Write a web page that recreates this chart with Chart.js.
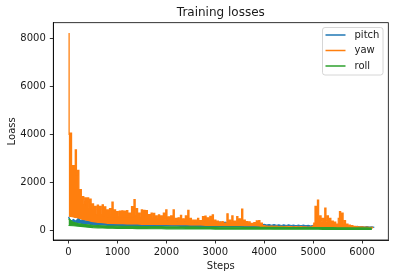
<!DOCTYPE html>
<html>
<head>
<meta charset="utf-8">
<script src="https://cdn.jsdelivr.net/npm/chart.js@4.4.0/dist/chart.umd.min.js"></script>
<style>
    html, body { margin: 0; padding: 0; background: #fff; }
    #wrap { width: 395px; height: 278px; }
</style>
</head>
<body>
<div id="wrap"><canvas id="lossChart" width="395" height="278"></canvas></div>
<script>
// Training losses - pitch / yaw / roll

// sample spacing (steps); each "peak" is read at step i*SAMPLE, each "body" value half a sample later
const SAMPLE = 50;
const SAMPLE_COARSE = 100;

const xTicks = [0, 1000, 2000, 3000, 4000, 5000, 6000];
const yTicks = [0, 2000, 4000, 6000, 8000];

// yaw: spikes on top of the noisy band (every 50 steps)
const yawPeak = [
    8200, 4050, 2700, 3350, 2500, 1700, 1400, 1350, 1350, 1300,
    1100, 1000, 1050, 1000, 1060, 980, 850, 900, 1180, 850,
    780, 800, 810, 800, 820, 720, 990, 1280, 900, 720,
    850, 830, 820, 650, 720, 710, 600, 640, 600, 720,
    850, 560, 600, 850, 500, 520, 620, 480, 600, 830,
    500, 430, 420, 500, 400, 570, 590, 520, 580, 640,
    430, 380, 340, 360, 300, 690, 420, 600, 380, 570,
    480, 880, 420, 360, 350, 290, 320, 390, 400, 300,
    200, 170, 160, 170, 160, 170, 150, 160, 150, 160,
    150, 150, 140, 150, 140, 150, 140, 140, 130, 140,
    180, 1000, 1260, 600, 500, 920, 600, 500, 380, 340,
    260, 780, 720, 400, 260, 220, 200, 160, 150, 140,
    140, 130, 130, 120, 120
];
// yaw: solid level of the band between the spikes (steps 25, 75, ...)
const yawBody = [
    4000, 2650, 2600, 2300, 1700, 1300, 1100, 1000, 950, 900,
    700, 650, 620, 620, 600, 580, 570, 580, 570, 560,
    560, 560, 560, 560, 550, 560, 560, 600, 560, 540,
    540, 530, 520, 500, 500, 490, 480, 470, 470, 460,
    420, 400, 430, 400, 380, 390, 370, 380, 390, 400,
    350, 340, 340, 330, 330, 380, 400, 380, 390, 350,
    300, 280, 270, 260, 280, 300, 300, 330, 290, 300,
    330, 300, 270, 260, 250, 240, 250, 260, 240, 200,
    140, 130, 135, 130, 130, 125, 130, 125, 125, 120,
    125, 120, 120, 120, 115, 120, 115, 115, 115, 115,
    300, 900, 500, 380, 500, 380, 320, 260, 220, 180,
    500, 450, 250, 180, 150, 140, 130, 120, 120, 115,
    110, 110, 105, 100, 100
];
// yaw: bottom edge of the orange band (every 100 steps)
const yawFloor = [
    560, 520, 480, 420, 380, 330, 300, 280, 260, 250,
    240, 240, 230, 230, 230, 220, 220, 220, 210, 210,
    210, 200, 200, 200, 200, 190, 190, 190, 180, 180,
    180, 180, 170, 170, 170, 170, 160, 160, 160, 150,
    100, 100, 100, 95, 95, 95, 90, 90, 90, 90,
    90, 90, 90, 85, 85, 85, 85, 80, 80, 80,
    80, 80, 80
];

// pitch: every 100 steps (top, and a dip 50 steps later)
const pitchHigh = [
    560, 450, 500, 470, 430, 420, 410, 400, 400, 390,
    390, 400, 380, 390, 400, 400, 410, 400, 410, 420,
    430, 420, 440, 430, 410, 400, 380, 370, 370, 360,
    360, 350, 340, 330, 320, 310, 300, 290, 270, 260,
    250, 240, 240, 230, 230, 230, 220, 220, 220, 210,
    210, 200, 200, 190, 190, 180, 180, 170, 160, 160,
    150, 150, 140
];
const pitchDip = [
    380, 380, 400, 380, 360, 350, 340, 330, 330, 330,
    330, 330, 320, 330, 340, 340, 350, 350, 350, 360,
    370, 360, 370, 360, 350, 340, 330, 320, 320, 310,
    310, 300, 290, 290, 280, 270, 260, 250, 240, 230,
    220, 210, 210, 200, 200, 200, 190, 190, 190, 180,
    180, 170, 170, 165, 165, 155, 155, 145, 140, 140,
    130, 130, 120
];

// roll: top and bottom of the green band, every 100 steps
const rollHigh = [
    480, 330, 280, 250, 230, 210, 200, 190, 180, 175,
    170, 165, 165, 160, 160, 155, 155, 150, 150, 150,
    145, 145, 145, 140, 140, 140, 140, 135, 135, 135,
    135, 130, 130, 130, 130, 130, 125, 125, 125, 125,
    120, 120, 120, 120, 120, 115, 115, 115, 115, 115,
    110, 110, 110, 110, 110, 105, 105, 105, 100, 100,
    100, 100, 95
];
const rollLow = [
    200, 190, 170, 150, 130, 115, 105, 95, 90, 85,
    80, 80, 75, 75, 70, 70, 70, 65, 65, 65,
    60, 60, 60, 60, 55, 55, 55, 55, 55, 55,
    50, 50, 50, 50, 50, 50, 50, 50, 50, 50,
    50, 50, 45, 45, 45, 45, 45, 45, 45, 45,
    45, 45, 40, 40, 40, 40, 40, 40, 40, 40,
    40, 40, 40
];

const COLORS = { pitch: '#1f77b4', yaw: '#ff7f0e', roll: '#2ca02c' };
const FONT = 'DejaVu Sans, sans-serif';
const TEXT = '#1a1a1a';

// zip top / dip readings into one zigzag series
function zigzag(tops, dips, every) {
    const pts = [];
    tops.forEach((t, i) => {
        pts.push({ x: i * every, y: t });
        if (dips[i] !== undefined) pts.push({ x: i * every + every / 2, y: dips[i] });
    });
    return pts;
}

function plain(values, every) {
    return values.map((v, i) => ({ x: i * every, y: v }));
}

function lineSet(label, data, color, order, fill, stepped) {
    return {
        label: label,
        data: data,
        borderColor: color,
        backgroundColor: color,
        borderWidth: 1.2,
        pointRadius: 0,
        tension: 0,
        stepped: stepped || false,
        fill: fill,
        order: order
    };
}

// title, axis labels, frame and legend box (matplotlib look)
const decorPlugin = {
    id: 'decor',
    afterDraw(chart) {
        const ctx = chart.ctx;
        const a = chart.chartArea;
        ctx.save();

        ctx.strokeStyle = '#000';
        ctx.lineWidth = 0.8;
        ctx.strokeRect(a.left, a.top, a.right - a.left, a.bottom - a.top);

        const cx = (a.left + a.right) / 2;
        ctx.fillStyle = TEXT;
        ctx.textAlign = 'center';
        ctx.textBaseline = 'middle';
        ctx.font = '12px ' + FONT;
        ctx.fillText('Training losses', cx, 12.5);
        ctx.font = '10px ' + FONT;
        ctx.fillText('Steps', cx, 266);

        ctx.save();
        ctx.translate(12, (a.top + a.bottom) / 2);
        ctx.rotate(-Math.PI / 2);
        ctx.fillText('Loass', 0, 0);
        ctx.restore();

        // legend
        const bx = 322.5, by = 27.5, bw = 60.5, bh = 47.5;
        ctx.beginPath();
        ctx.roundRect(bx, by, bw, bh, 2.5);
        ctx.fillStyle = 'rgba(255,255,255,0.8)';
        ctx.fill();
        ctx.strokeStyle = '#cccccc';
        ctx.lineWidth = 0.8;
        ctx.stroke();

        const items = [['pitch', COLORS.pitch], ['yaw', COLORS.yaw], ['roll', COLORS.roll]];
        items.forEach((it, i) => {
            const y = 35 + i * 15.5;
            ctx.strokeStyle = it[1];
            ctx.lineWidth = 1.5;
            ctx.beginPath();
            ctx.moveTo(325.5, y);
            ctx.lineTo(345.5, y);
            ctx.stroke();
            ctx.fillStyle = TEXT;
            ctx.textAlign = 'left';
            ctx.fillText(it[0], 354.5, y);
        });

        ctx.restore();
    }
};

const axisGrid = {
    display: true,
    drawOnChartArea: false,
    drawTicks: true,
    tickLength: 3.5,
    tickWidth: 0.8,
    color: '#000'
};

const clear = 'rgba(0,0,0,0)';

new Chart(document.getElementById('lossChart'), {
    type: 'line',
    data: {
        datasets: [
            // 0: pitch, filled down to the roll band
            lineSet('pitch', zigzag(pitchHigh, pitchDip, SAMPLE_COARSE), COLORS.pitch, 4,
                { target: 2, above: COLORS.pitch, below: clear }),
            // 1: yaw, filled down to its floor
            lineSet('yaw', zigzag(yawPeak, yawBody, SAMPLE), COLORS.yaw, 3,
                { target: 4, above: COLORS.yaw, below: clear }, 'middle'),
            // 2: roll top, filled to roll bottom
            lineSet('roll', plain(rollHigh, SAMPLE_COARSE), COLORS.roll, 1,
                { target: 3, above: COLORS.roll, below: COLORS.roll }),
            // 3: roll bottom
            lineSet('roll low', plain(rollLow, SAMPLE_COARSE), COLORS.roll, 0, false),
            // 4: yaw floor, not drawn, only a fill boundary
            Object.assign(lineSet('yaw floor', plain(yawFloor, SAMPLE_COARSE), clear, 5, false),
                { borderWidth: 0 })
        ]
    },
    options: {
        responsive: false,
        animation: false,
        devicePixelRatio: 1,
        layout: { padding: { top: 22.7, right: 6.7, left: 0, bottom: 0 } },
        plugins: {
            legend: { display: false },
            title: { display: false },
            tooltip: { enabled: false }
        },
        scales: {
            x: {
                type: 'linear',
                min: -311,
                max: 6536,
                grid: axisGrid,
                border: { display: true, color: '#000', width: 0.8 },
                ticks: {
                    color: TEXT,
                    font: { family: FONT, size: 10 },
                    padding: 3,
                    maxRotation: 0,
                    callback: v => String(v)
                },
                afterBuildTicks: s => { s.ticks = xTicks.map(v => ({ value: v })); },
                afterFit: s => { s.height = 38; }
            },
            y: {
                type: 'linear',
                min: -404,
                max: 8650,
                grid: axisGrid,
                border: { display: true, color: '#000', width: 0.8 },
                ticks: {
                    color: TEXT,
                    font: { family: FONT, size: 10 },
                    padding: 4,
                    callback: v => String(v)
                },
                afterBuildTicks: s => { s.ticks = yTicks.map(v => ({ value: v })); },
                afterFit: s => { s.width = 53.3; }
            }
        }
    },
    plugins: [decorPlugin]
});
</script>
</body>
</html>
